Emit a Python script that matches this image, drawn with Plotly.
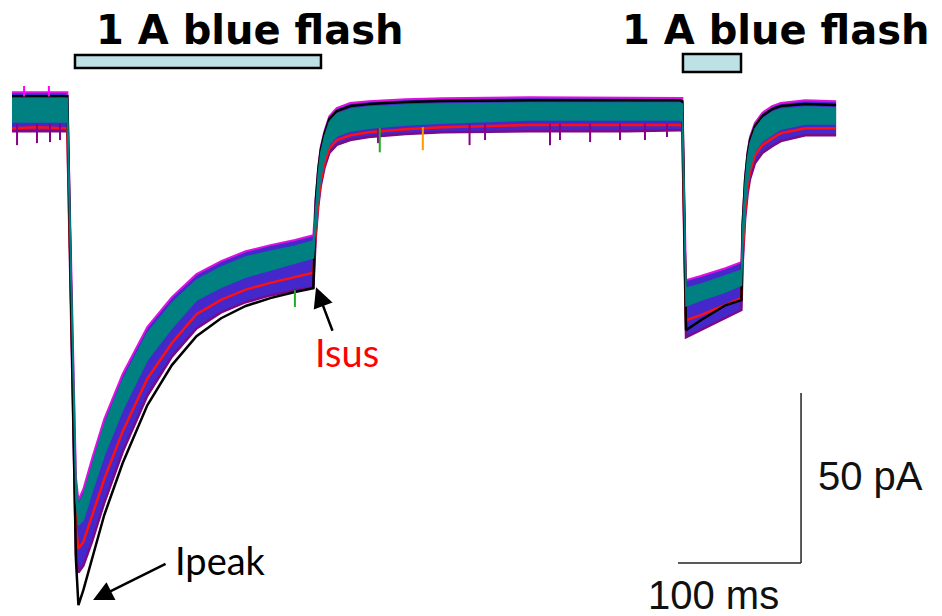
import plotly.graph_objects as go

# ---------------- data (time in ms, current in pA) ----------------
t_ms = [0, 20, 44, 45, 52, 54, 58, 65, 75, 90, 110, 130, 150, 170, 190, 210, 230, 245,
        247, 249, 251, 254, 258, 264, 275, 290, 320, 350,
        420, 500, 543, 545, 548, 560, 580, 593,
        594, 596, 598, 600, 604, 610, 618, 625, 645, 670]

teal_hi = [3.5, 3.5, 3.5, 3.5, -108.8, -116.2, -113.2, -104.4, -92.6, -79.4, -65.6, -56.8,
           -50.0, -46.2, -43.2, -41.5, -40.0, -38.5,
           -27.4, -18.5, -12.6, -7.9, -3.5, -1.2, 0.3, 0.9, 1.5, 1.8,
           2.1, 2.1, 2.1, 1.8, -52.4, -51.2, -48.8, -47.1,
           -34.7, -21.5, -14.1, -9.7, -5.6, -2.6, -0.6, 0.3, 0.9, 0.6]

teal_lo = [-3.5, -3.5, -3.5, -3.5, -114.7, -122.1, -120.6, -112.4, -101.5, -88.2, -73.5,
           -64.1, -55.9, -52.1, -49.1, -47.1, -45.0, -43.5,
           -34.4, -25.6, -19.7, -14.4, -10.0, -7.6, -6.2, -5.3, -4.4, -3.8,
           -2.9, -2.9, -2.9, -3.2, -57.6, -55.9, -53.5, -51.5,
           -41.8, -28.5, -21.2, -16.8, -12.1, -9.1, -7.1, -5.6, -4.1, -4.1]

fringe_hi = [5.3, 5.3, 5.3, 5.3, -108.2, -114.7, -111.5, -102.6, -90.9, -77.6, -63.8, -55.0,
             -48.2, -44.4, -41.5, -39.7, -38.2, -36.8,
             -25.6, -16.8, -10.9, -6.2, -1.8, 0.6, 2.1, 2.6, 3.2, 3.5,
             3.8, 3.8, 3.8, 3.6, -50.0, -48.8, -46.5, -44.7,
             -32.9, -19.7, -12.3, -7.9, -3.8, -0.8, 1.2, 2.1, 2.9, 2.6]

fringe_lo = [-6.2, -6.2, -6.2, -6.2, -131.0, -136.0, -134.0, -127.0, -115.5, -100.5, -84.0,
             -72.5, -64.2, -59.5, -56.5, -54.5, -53.0, -52.1,
             -37.0, -28.2, -22.3, -17.0, -12.6, -10.2, -8.8, -7.9, -7.0, -6.5,
             -6.2, -6.2, -5.9, -6.2, -66.8, -64.7, -61.2, -58.8,
             -45.3, -32.0, -24.7, -20.3, -15.6, -12.6, -10.6, -9.1, -7.4, -7.4]

red_mid = [-5.3, -5.0, -5.3, -5.0, -122.5, -129.0, -127.0, -119.5, -108.5, -94.5, -79.0,
           -68.5, -60.0, -55.8, -52.8, -50.8, -49.0, -47.8,
           -35.6, -26.8, -20.9, -15.6, -11.2, -8.8, -7.4, -6.5, -5.6, -5.0,
           -4.4, -4.4, -4.4, -4.7, -61.8, -60.3, -57.4, -55.3,
           -43.0, -29.7, -22.4, -18.0, -13.3, -10.3, -8.3, -6.8, -5.3, -5.3]

black_trace = [4.1, 4.1, 4.1, 4.1, -132.4, -145.6, -141.2, -132.4, -119.1, -103.8, -86.8,
               -75.0, -66.5, -61.2, -57.6, -55.3, -53.5, -52.4,
               -26.5, -17.6, -11.7, -7.0, -2.6, -0.3, 1.2, 1.8, 2.4, 2.7,
               2.9, 2.9, 2.9, 2.6, -64.7, -61.8, -57.4, -55.9,
               -33.8, -20.6, -13.2, -8.8, -4.7, -1.7, 0.3, 1.2, 1.8, 1.5]

# noise spikes: time, base, tip
purple_spike_t = [4.1, 20.3, 30.9, 39.0, 297.6, 372.0, 384.6, 437.4, 445.5, 470.0, 494.3, 514.6, 532.5]
purple_spike_base = [-4.0] * 13
purple_spike_tip = [-10.3, -9.7, -9.4, -8.8, -9.7, -10.3, -8.8, -10.3, -8.8, -9.4, -8.8, -8.8, -7.9]
orange_spike_t = [334.0]
orange_spike_base = [-5.0]
orange_spike_tip = [-11.8]
green_spike_t = [230.0, 299.0]
green_spike_base = [-53.0, -5.0]
green_spike_tip = [-57.9, -12.4]
magenta_spike_t = [9.8, 30.0]
magenta_spike_base = [4.0, 4.0]
magenta_spike_tip = [7.1, 7.1]

flash_labels = ["1 A blue flash", "1 A blue flash"]
flash_label_x = [192.7, 621.0]
flash_start = [51.2, 545.5]
flash_end = [251.2, 592.7]

scale_time_ms = 100
scale_current_pA = 50

# ---------------- figure ----------------
fig = go.Figure()

def line(y, color, width, fill=None, fillcolor=None):
    fig.add_trace(go.Scatter(x=t_ms, y=y, mode="lines",
                             line=dict(color=color, width=width),
                             fill=fill, fillcolor=fillcolor, hoverinfo="skip"))

def spikes(ts, bases, tips, color, width=2):
    xs, ys = [], []
    for t, b, p in zip(ts, bases, tips):
        xs += [t, t, None]
        ys += [b, p, None]
    fig.add_trace(go.Scatter(x=xs, y=ys, mode="lines",
                             line=dict(color=color, width=width), hoverinfo="skip"))

line(fringe_hi, "#e010e0", 2)
line(fringe_lo, "#7a0a8a", 2.5, fill="tonexty", fillcolor="#4428cc")
line(red_mid, "#ff1010", 2.5)
line(black_trace, "#000000", 2.5)
spikes(purple_spike_t, purple_spike_base, purple_spike_tip, "#880088")
spikes(orange_spike_t, orange_spike_base, orange_spike_tip, "#ff9900")
spikes(green_spike_t, green_spike_base, green_spike_tip, "#22aa22")
spikes(magenta_spike_t, magenta_spike_base, magenta_spike_tip, "#ff00ff")
line(teal_hi, "#008080", 1.5)
line(teal_lo, "#008080", 1.5, fill="tonexty", fillcolor="#008080")

shapes = []
bar_y = [(12.4, 16.2), (11.2, 16.5)]
for (x0, x1), (y0, y1) in zip(zip(flash_start, flash_end), bar_y):
    shapes.append(dict(type="rect", xref="x", yref="y", x0=x0, x1=x1, y0=y0, y1=y1,
                       fillcolor="#bde1e4", line=dict(color="#000000", width=2.5)))

sb_x1, sb_y0 = 641.5, -133.2
shapes.append(dict(type="line", xref="x", yref="y", x0=sb_x1 - scale_time_ms, x1=sb_x1,
                   y0=sb_y0, y1=sb_y0, line=dict(color="#222222", width=1.5)))
shapes.append(dict(type="line", xref="x", yref="y", x0=sb_x1, x1=sb_x1,
                   y0=sb_y0, y1=sb_y0 + scale_current_pA, line=dict(color="#222222", width=1.5)))

annotations = []
for txt, xc in zip(flash_labels, flash_label_x):
    annotations.append(dict(x=xc, y=23.6, xref="x", yref="y", text="<b>" + txt + "</b>",
                            showarrow=False, xanchor="center", yanchor="middle",
                            font=dict(family="DejaVu Sans", size=40, color="#000000")))

# arrows
annotations.append(dict(x=65.9, y=-144.1, xref="x", yref="y", text="", showarrow=True,
                        ax=74, ay=-37, axref="pixel", ayref="pixel",
                        arrowhead=2, arrowsize=1.6, arrowwidth=2.5, arrowcolor="#000000"))
annotations.append(dict(x=247.2, y=-52.1, xref="x", yref="y", text="", showarrow=True,
                        ax=17, ay=45, axref="pixel", ayref="pixel",
                        arrowhead=2, arrowsize=1.6, arrowwidth=2.5, arrowcolor="#000000"))

annotations.append(dict(x=169.9, y=-132.4, xref="x", yref="y", text="Ipeak", showarrow=False,
                        xanchor="center", yanchor="middle",
                        font=dict(family="Lato", size=38, color="#000000")))
annotations.append(dict(x=272.4, y=-71.2, xref="x", yref="y", text="Isus", showarrow=False,
                        xanchor="center", yanchor="middle",
                        font=dict(family="Lato", size=38, color="#ff0000")))
annotations.append(dict(x=697.6, y=-107.6, xref="x", yref="y", text=f"{scale_current_pA} pA",
                        showarrow=False, xanchor="center", yanchor="middle",
                        font=dict(family="Liberation Sans", size=40, color="#111111")))
annotations.append(dict(x=570.0, y=-142.6, xref="x", yref="y", text=f"{scale_time_ms} ms",
                        showarrow=False, xanchor="center", yanchor="middle",
                        font=dict(family="Liberation Sans", size=40, color="#111111")))

fig.update_layout(
    width=942, height=616, margin=dict(l=0, r=0, t=0, b=0),
    paper_bgcolor="white", plot_bgcolor="white", showlegend=False,
    xaxis=dict(visible=False, range=[-9.76, 756.1], fixedrange=True),
    yaxis=dict(visible=False, range=[-148.8, 32.4], fixedrange=True),
    shapes=shapes, annotations=annotations,
)

fig.write_html("out.html")
